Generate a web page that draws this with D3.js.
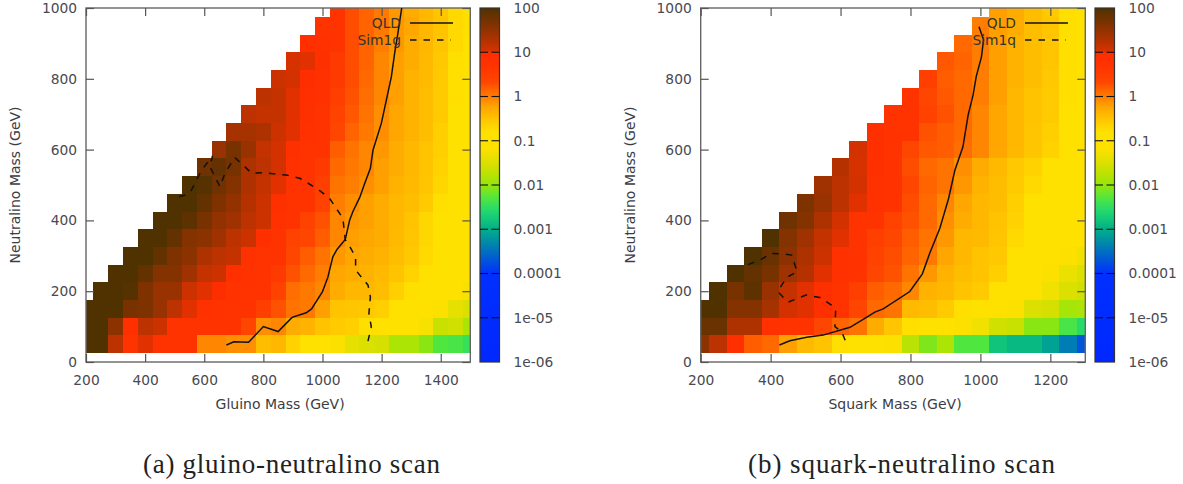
<!DOCTYPE html>
<html><head><meta charset="utf-8">
<script src="https://cdn.jsdelivr.net/npm/d3@7"></script>
<style>
html,body{margin:0;padding:0;background:#fff;}
svg{display:block;}
.tk text{font-family:"DejaVu Sans";font-size:13.8px;fill:#4a4a52;}
.tk path{display:none;}
.tk line{stroke:#555;stroke-width:1.2;}
.lab{font-family:"DejaVu Sans";font-size:14px;fill:#3c3c44;}
.cap{font-family:"Liberation Serif";font-size:27px;fill:#222;}
.leg{font-family:"DejaVu Sans";font-size:13.8px;fill:#333;}
</style></head><body>
<svg id="c" width="1183" height="484"></svg>
<script>
// log10 of the plotted value, one array per neutralino row; first entry is the first mass column drawn in that row
const neutralinoRows = [50,100,150,200,250,300,350,400,450,500,550,600,650,700,750,800,850,900,950,1000];
const rowStartColumn = [200,200,200,250,300,350,400,450,500,550,600,650,700,750,800,850,900,950,1000,1050];

const gluinoGrid = [
[2,2,1.2,.7,1.01,.7,.7,.7,-.05,-.05,-.1,-.1,-.45,-.4,-.65,-1,-1,-1.2,-1.4,-1.5,-1.55,-1.85,-1.85,-2.05,-2.3,-2.35,-2.45],
[2,2,1.55,.8,1.2,1.1,.7,.7,.7,.7,.7,.33,-.1,-.05,-.3,-.35,-.5,-.58,-.62,-.78,-1,-1,-1,-1.25,-1.65,-1.6,-1.85],
[2,2,2,1.7,1.65,1.45,1.2,1.01,.75,.7,.7,.7,.47,.26,.06,.03,-.2,-.5,-.52,-.55,-.62,-1,-1,-1,-1.2,-1.4,-1.5],
[2,2,1.95,1.65,1.45,1.45,1.1,1.01,.9,.7,.7,.7,.4,.09,.03,-.05,-.3,-.4,-.4,-.45,-.62,-.78,-1,-1,-1,-1.25],
[2,2,1.85,1.6,1.6,1.4,1.15,1.1,.8,.7,.7,.55,.26,.12,0,-.25,-.3,-.35,-.42,-.5,-.65,-1,-1,-1,-1],
[2,2,1.85,1.65,1.55,1.3,1.2,1.15,.75,.7,.7,.33,.19,.06,-.15,-.25,-.3,-.35,-.45,-.55,-.72,-1,-1,-1],
[2,2,1.85,1.6,1.55,1.4,1.2,1.1,.8,.7,.4,.33,.19,-.05,-.2,-.25,-.3,-.42,-.52,-.7,-1,-1,-1],
[2,2,1.9,1.7,1.5,1.4,1.2,1.1,.75,.7,.4,.26,-.05,-.15,-.2,-.3,-.4,-.5,-.7,-1,-1,-1],
[2,2,1.85,1.65,1.5,1.25,1.1,.8,.7,.7,.4,0,-.1,-.2,-.3,-.4,-.45,-.58,-.78,-1,-1],
[2,1.95,1.75,1.6,1.3,1.15,1.01,.7,.7,.47,.06,0,-.1,-.2,-.35,-.42,-.52,-.7,-1,-1],
[1.75,1.85,1.7,1.3,1.2,1.05,.75,.7,.55,.12,.03,-.05,-.2,-.3,-.4,-.5,-.65,-1,-1],
[1.45,1.7,1.45,1.15,1.05,.8,.7,.7,.19,.06,-.05,-.15,-.3,-.4,-.5,-.62,-1,-1],
[1.35,1.35,1.3,1.1,1.01,.75,.7,.33,.15,.03,-.1,-.25,-.35,-.45,-.62,-1,-1],
[1.2,1.15,1.15,1.01,.8,.7,.4,.22,.06,-.1,-.25,-.35,-.45,-.58,-1,-1],
[1.2,1.15,1.01,.85,.75,.47,.26,.09,-.05,-.2,-.35,-.45,-.58,-.78,-1],
[1.1,1.05,.9,.75,.55,.29,.12,-.05,-.2,-.35,-.42,-.58,-.78,-1],
[1.03,1.01,.8,.55,.29,.15,-.05,-.2,-.3,-.42,-.55,-.78,-1],
[.85,.75,.7,.29,.15,0,-.15,-.3,-.4,-.52,-.72,-1],
[.7,.7,.29,.15,.03,-.15,-.25,-.4,-.5,-.72,-.78],
[.7,.29,.15,.03,-.15,-.3,-.4,-.52,-.72,-.78]
];

const squarkGrid = [
[1.55,1.2,.85,.19,.12,-.2,-.42,-.5,-.78,-1,-1,-1.2,-1.75,-2.1,-1.85,-2.3,-2.3,-2.8,-2.9,-2.9,-3.1,-3.4,-3.7],
[1.8,1.8,1.3,1.3,.75,.7,.7,.33,.15,.06,-.3,-.52,-.78,-1,-1,-1.2,-1.3,-1.6,-1.65,-2.05,-2.05,-2.35,-2.55],
[2,2,1.6,1.6,1.35,1.05,1.01,.8,.7,.33,.12,.06,-.42,-.45,-.58,-.78,-1,-1,-1.2,-1.5,-1.55,-1.9,-1.85],
[2,1.7,1.9,1.45,1.15,1.01,.8,.7,.47,.19,.12,-.05,-.35,-.4,-.5,-.58,-1,-1,-1,-1.3,-1.5,-1.6],
[2,1.85,1.7,1.4,1.25,1.01,.75,.7,.33,.26,.06,-.15,-.35,-.45,-.5,-.62,-1,-1,-1.2,-1.35,-1.5],
[2,1.8,1.55,1.3,1.1,.75,.7,.4,.29,.15,.03,-.25,-.4,-.5,-.55,-1,-1,-1,-1.2,-1.3],
[2,1.6,1.4,1.15,1.01,.7,.47,.33,.19,.06,-.15,-.4,-.42,-.52,-.72,-1,-1,-1,-1],
[1.75,1.6,1.3,1.05,.7,.7,.4,.26,.12,-.1,-.3,-.4,-.5,-.65,-1,-1,-1,-1],
[1.65,1.45,1.2,1.01,.75,.7,.29,.12,-.05,-.25,-.4,-.45,-.62,-1,-1,-1,-1],
[1.4,1.2,1.05,.75,.7,.33,.15,.06,-.15,-.35,-.45,-.58,-.72,-1,-1,-1],
[1.25,1.03,.8,.7,.29,.12,.06,-.1,-.3,-.42,-.55,-.65,-1,-1,-1],
[1.05,.85,.7,.33,.22,.19,.09,-.05,-.25,-.4,-.52,-.65,-1,-1],
[.8,.7,.7,.26,.19,.12,-.05,-.25,-.4,-.52,-.62,-1,-1],
[.7,.7,.4,.26,.12,-.05,-.25,-.4,-.5,-.58,-1,-1],
[.7,.33,.22,.12,0,-.2,-.4,-.5,-.58,-.78,-1],
[.47,.19,.12,0,-.2,-.35,-.45,-.55,-.78,-1],
[.22,.15,0,-.2,-.35,-.45,-.52,-.78,-1],
[.12,0,-.2,-.35,-.45,-.52,-.78,-1],
[0,-.2,-.3,-.45,-.52,-.78,-1],
[-.2,-.3,-.45,-.58,-.78,-1]
];

// contour lines: [mass, neutralino]
const qldGluino = [[675,48],[700,57],[750,56],[800,100],[850,86],[897,126],[945,139],[963,150],[1000,199],[1018,239],[1035,297],[1049,318],[1077,346],[1092,401],[1103,425],[1126,465],[1143,505],[1162,547],[1171,599],[1199,674],[1216,740],[1233,806],[1244,872],[1255,928],[1268,1000]];
const sim1gGluino = [[515,467],[545,474],[557,486],[591,542],[628,582],[619,552],[653,495],[670,533],[703,578],[743,547],[760,533],[799,535],[878,528],[923,519],[985,488],[1024,462],[1069,406],[1077,345],[1086,335],[1112,297],[1112,260],[1154,217],[1162,184],[1157,137],[1165,100],[1151,48]];
const qldSquark = [[425,48],[455,60],[503,70],[550,76],[627,98],[674,126],[698,141],[722,150],[798,199],[834,249],[855,307],[884,378],[909,462],[927,542],[950,608],[965,698],[979,754],[988,806],[1003,862],[1009,910],[996,947]];
const sim1qSquark = [[336,275],[379,293],[398,307],[441,305],[460,302],[476,255],[446,239],[420,199],[450,169],[501,189],[541,182],[574,161],[586,147],[584,100],[603,86],[619,48]];

const massTicksGluino = [200,400,600,800,1000,1200,1400];
const massTicksSquark = [200,400,600,800,1000,1200];
const neutralinoTicks = [0,200,400,600,800,1000];
const colorTicks = [-6,-5,-4,-3,-2,-1,0,1,2];
const colorTickLabels = ["1e-06","1e-05","0.0001","0.001","0.01","0.1","1","10","100"];

// palette of the colour box, log10(value) -> colour
const paletteStops = [-6,-4,-3.5,-3,-2.6,-2.3,-2,-1.6,-1.17,-.8,-.5,-.2,0,.33,.71,.98,1.02,1.32,1.69,2];
const paletteColors = ["#0028ff","#0030ff","#0070c0","#00b088","#20d870","#50e640","#96e60a","#d0e000","#ffe100","#ffe100","#ffc300","#ffa000","#ff7d00","#ff4600","#ff3200","#ff2d00","#d73200","#aa3200","#783200","#503200"];

const svg = d3.select("#c");
const colour = d3.scaleLinear().domain(paletteStops).range(paletteColors).interpolate(d3.interpolateRgb).clamp(true);
const defs = svg.append("defs");
const grad = defs.append("linearGradient").attr("id","pal").attr("x1",0).attr("x2",0).attr("y1",1).attr("y2",0);
grad.selectAll("stop").data(paletteStops).join("stop")
  .attr("offset",d=>(d+6)/8).attr("stop-color",(d,i)=>paletteColors[i]);

function panel(o){
  const x = d3.scaleLinear().domain(o.xDomain).range([o.left,o.right]);
  const y = d3.scaleLinear().domain([0,1000]).range([362,8]);
  const id = "clip"+o.name;
  defs.append("clipPath").attr("id",id).append("rect")
    .attr("x",o.left).attr("y",8).attr("width",o.right-o.left).attr("height",354);
  const g = svg.append("g");
  const cells = [];
  o.grid.forEach((row,i)=>row.forEach((v,j)=>{
    cells.push({m:rowStartColumn[i]+50*j,n:neutralinoRows[i],v});
  }));
  g.append("g").attr("clip-path",`url(#${id})`).attr("shape-rendering","crispEdges")
    .selectAll("rect").data(cells).join("rect")
    .attr("x",d=>x(d.m-25)).attr("width",d=>x(d.m+25)-x(d.m-25))
    .attr("y",d=>y(d.n+25)).attr("height",d=>y(d.n-25)-y(d.n+25))
    .attr("fill",d=>colour(d.v));
  // frame
  g.append("rect").attr("x",o.left).attr("y",8).attr("width",o.right-o.left).attr("height",354)
    .attr("fill","none").attr("stroke","#666").attr("stroke-width",1.4);
  const fmt = d3.format("d");
  const ax = (gen,tx,ty)=>g.append("g").attr("class","tk").attr("transform",`translate(${tx},${ty})`).call(gen);
  ax(d3.axisBottom(x).tickValues(o.xTicks).tickSizeInner(-8).tickSizeOuter(0).tickPadding(13).tickFormat(fmt),0,362);
  ax(d3.axisTop(x).tickValues(o.xTicks).tickSizeInner(-8).tickSizeOuter(0).tickFormat(""),0,8);
  ax(d3.axisLeft(y).tickValues(neutralinoTicks).tickSizeInner(-8).tickSizeOuter(0).tickPadding(9).tickFormat(fmt),o.left,0);
  ax(d3.axisRight(y).tickValues(neutralinoTicks).tickSizeInner(-8).tickSizeOuter(0).tickFormat(""),o.right,0);
  const line = d3.line().x(d=>x(d[0])).y(d=>y(d[1]));
  const lg = g.append("g").attr("clip-path",`url(#${id})`);
  lg.append("path").attr("d",line(o.qld)).attr("fill","none").attr("stroke","#111").attr("stroke-width",1.5);
  lg.append("path").attr("d",line(o.sim)).attr("fill","none").attr("stroke","#111").attr("stroke-width",1.5).attr("stroke-dasharray","6.5 7");
  // legend
  g.append("text").attr("class","leg").attr("x",o.legX-9).attr("y",28).attr("text-anchor","end").text("QLD");
  g.append("text").attr("class","leg").attr("x",o.legX-9).attr("y",45).attr("text-anchor","end").text(o.simName);
  g.append("line").attr("x1",o.legX).attr("x2",o.legX+43).attr("y1",23).attr("y2",23).attr("stroke","#111").attr("stroke-width",1.4);
  g.append("line").attr("x1",o.legX).attr("x2",o.legX+41).attr("y1",40).attr("y2",40).attr("stroke","#111").attr("stroke-width",1.4).attr("stroke-dasharray","6.5 7");
  // labels
  g.append("text").attr("class","lab").attr("text-anchor","middle").attr("x",(o.left+o.right)/2+2).attr("y",409).text(o.xLabel);
  g.append("text").attr("class","lab").attr("text-anchor","middle")
    .attr("transform",`translate(${o.left-66},185) rotate(-90)`).text("Neutralino Mass (GeV)");
  g.append("text").attr("class","cap").attr("text-anchor","middle").attr("x",o.capX).attr("y",473)
    .attr("textLength",o.capLen).attr("lengthAdjust","spacing").text(o.caption);
  // colour box
  const c = d3.scaleLinear().domain([-6,2]).range([362,8]);
  g.append("rect").attr("x",o.barX).attr("y",8).attr("width",19.5).attr("height",354).attr("fill","url(#pal)").attr("stroke","#333").attr("stroke-width",1.2);
  g.append("g").attr("class","tk").attr("transform",`translate(${o.barX+19.5},0)`)
    .call(d3.axisRight(c).tickValues(colorTicks).tickSizeInner(0).tickSizeOuter(0).tickPadding(14).tickFormat((d,i)=>colorTickLabels[i]));
  g.selectAll(null).data(colorTicks.slice(1,-1)).join("line").attr("x1",o.barX).attr("x2",o.barX+8).attr("y1",d=>c(d)).attr("y2",d=>c(d)).attr("stroke","#111").attr("stroke-width",1.1);
  g.selectAll(null).data(colorTicks.slice(1,-1)).join("line").attr("x1",o.barX+11.5).attr("x2",o.barX+19.5).attr("y1",d=>c(d)).attr("y2",d=>c(d)).attr("stroke","#111").attr("stroke-width",1.1);
}

panel({name:"a",grid:gluinoGrid,xDomain:[200,1500],left:86,right:470.3,xTicks:massTicksGluino,qld:qldGluino,sim:sim1gGluino,simName:"Sim1g",legX:410,xLabel:"Gluino Mass (GeV)",capX:291.5,capLen:297,caption:"(a) gluino-neutralino scan",barX:480});
panel({name:"b",grid:squarkGrid,xDomain:[200,1300],left:700.7,right:1085.3,xTicks:massTicksSquark,qld:qldSquark,sim:sim1qSquark,simName:"Sim1q",legX:1025,xLabel:"Squark Mass (GeV)",capX:901.5,capLen:307,caption:"(b) squark-neutralino scan",barX:1095});
</script></body></html>
